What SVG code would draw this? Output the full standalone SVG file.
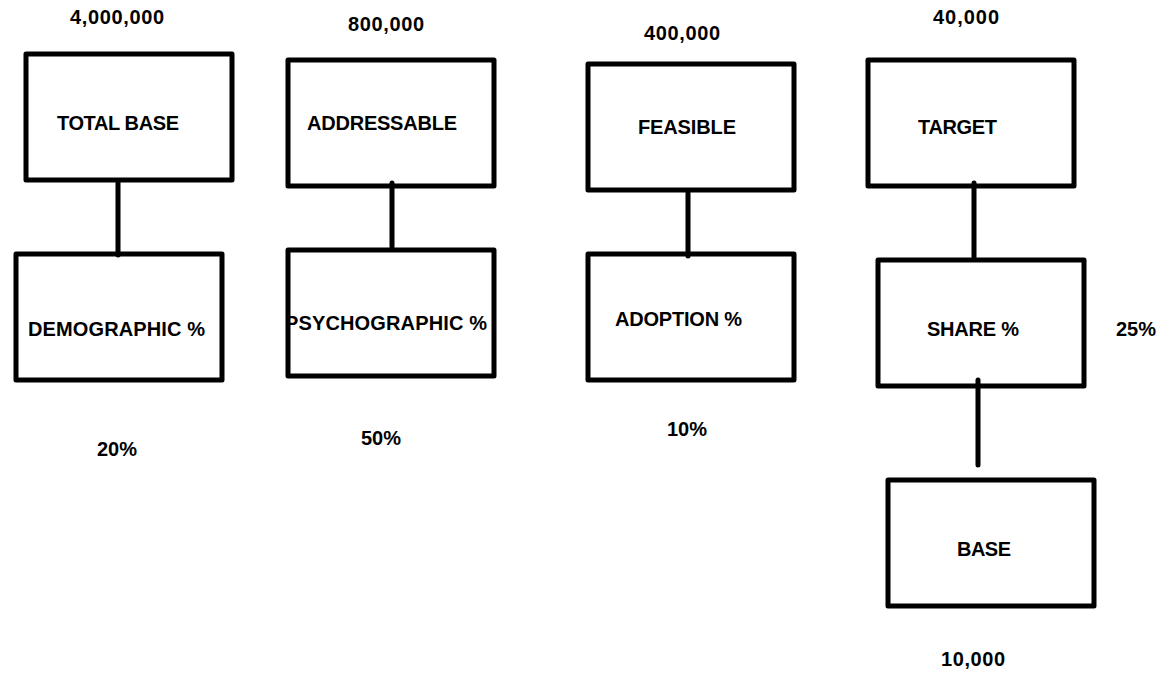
<svg xmlns="http://www.w3.org/2000/svg" width="1162" height="675" viewBox="0 0 1162 675">
  <style>
    text { font-family: "Liberation Sans", Arial, sans-serif; font-weight: bold; font-size: 20px; fill: #000; }
    .box { fill: none; stroke: #000; stroke-width: 5; stroke-linejoin: round; }
    .link { stroke: #000; stroke-width: 5; stroke-linecap: round; fill: none; }
  </style>
  <rect width="1162" height="675" fill="#fff"/>

  <!-- value labels -->
  <g id="values">
    <text x="70" y="24" textLength="94">4,000,000</text>
    <text x="348" y="31" textLength="76">800,000</text>
    <text x="644" y="40" textLength="76">400,000</text>
    <text x="933" y="24" textLength="66">40,000</text>
    <text x="97" y="456" textLength="40">20%</text>
    <text x="361" y="445" textLength="40">50%</text>
    <text x="667" y="436" textLength="40">10%</text>
    <text x="1116" y="336" textLength="40">25%</text>
    <text x="941" y="666" textLength="64">10,000</text>
  </g>

  <g id="total-base">
    <text x="57" y="130" textLength="122">TOTAL BASE</text>
    <rect class="box" x="26" y="54" width="206" height="126"/>
  </g>
  <g id="demographic">
    <text x="28" y="336" textLength="177">DEMOGRAPHIC %</text>
    <rect class="box" x="16" y="254" width="206" height="126"/>
  </g>
  <g id="addressable">
    <text x="307" y="130" textLength="150">ADDRESSABLE</text>
    <rect class="box" x="288" y="60" width="206" height="126"/>
  </g>
  <g id="psychographic">
    <text x="285" y="330" textLength="202">PSYCHOGRAPHIC %</text>
    <rect class="box" x="288" y="250" width="206" height="126"/>
  </g>
  <g id="feasible">
    <text x="638" y="134" textLength="98">FEASIBLE</text>
    <rect class="box" x="588" y="64" width="206" height="126"/>
  </g>
  <g id="adoption">
    <text x="615" y="326" textLength="127">ADOPTION %</text>
    <rect class="box" x="588" y="254" width="206" height="126"/>
  </g>
  <g id="target">
    <text x="918" y="134" textLength="79">TARGET</text>
    <rect class="box" x="868" y="60" width="206" height="126"/>
  </g>
  <g id="share">
    <text x="927" y="336" textLength="92">SHARE %</text>
    <rect class="box" x="878" y="260" width="206" height="126"/>
  </g>
  <g id="base">
    <text x="957" y="556" textLength="54">BASE</text>
    <rect class="box" x="888" y="480" width="206" height="126"/>
  </g>

  <g id="connectors">
    <line class="link" x1="118" y1="182" x2="118" y2="255"/>
    <line class="link" x1="392" y1="183" x2="392" y2="247"/>
    <line class="link" x1="688" y1="191" x2="688" y2="256"/>
    <line class="link" x1="974" y1="183" x2="974" y2="257"/>
    <line class="link" x1="978" y1="380" x2="978" y2="465"/>
  </g>
</svg>
